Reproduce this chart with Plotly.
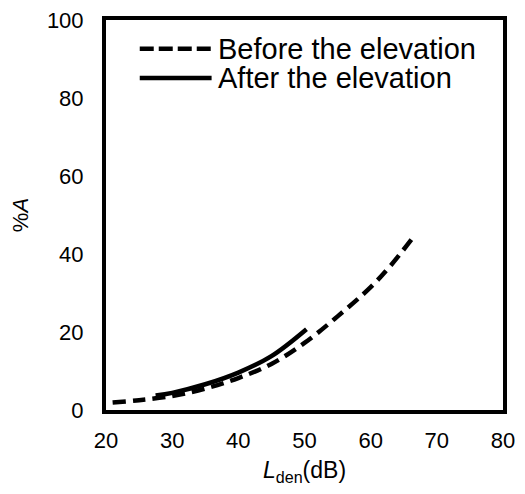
import plotly.graph_objects as go

# Data
before_x = [21, 25, 30, 35, 40, 45, 50, 55, 60, 63, 66.3]
before_y = [1.9, 2.5, 3.6, 5.5, 8.2, 11.8, 17.2, 24.0, 31.5, 37.0, 44.0]
after_x = [27.5, 30, 35, 40, 45, 50.3]
after_y = [3.7, 4.4, 6.6, 9.6, 13.8, 20.7]

x_ticks = [20, 30, 40, 50, 60, 70, 80]
y_ticks = [0, 20, 40, 60, 80, 100]
legend_labels = ["Before the elevation", "After the elevation"]

FONT = "Liberation Sans, Arial, sans-serif"

fig = go.Figure()
fig.add_trace(go.Scatter(x=before_x, y=before_y, mode="lines", name=legend_labels[0],
                         line=dict(color="black", width=4.5, dash="13px,7px", shape="spline"),
                         showlegend=False))
fig.add_trace(go.Scatter(x=after_x, y=after_y, mode="lines", name=legend_labels[1],
                         line=dict(color="black", width=4.5, shape="spline"),
                         showlegend=False))

# Custom legend (styling)
leg_rows = [(0.926, "14px,5px"), (0.851, "solid")]
for (yy, dash), lab in zip(leg_rows, legend_labels):
    fig.add_shape(type="line", xref="paper", yref="paper", x0=0.085, x1=0.266, y0=yy, y1=yy,
                  line=dict(color="black", width=4.5, dash=dash))
    fig.add_annotation(xref="paper", yref="paper", x=0.276, y=yy, text=lab, showarrow=False,
                       xanchor="left", yanchor="middle", font=dict(size=29, color="black", family=FONT))

fig.update_xaxes(range=[20, 80], tickvals=x_ticks, showline=True, mirror=True, linecolor="black",
                 linewidth=4, ticks="", showgrid=False, zeroline=False, ticklabelstandoff=8,
                 automargin=False, ticklabeloverflow="allow",
                 tickfont=dict(size=22, color="black", family=FONT),
                 title=dict(text="<i>L</i><sub>den</sub>(dB)", font=dict(size=23, color="black", family=FONT),
                            standoff=20))
fig.update_yaxes(range=[0, 100], tickvals=y_ticks, showline=True, mirror=True, linecolor="black",
                 linewidth=4, ticks="", showgrid=False, zeroline=False, ticklabelstandoff=14,
                 automargin=False, ticklabeloverflow="allow",
                 tickfont=dict(size=22, color="black", family=FONT),
                 title=dict(text="%<i>A</i>", font=dict(size=22, color="black", family=FONT), standoff=14))

# page body has an 8px margin: figure sized to fit the 525x494 window
fig.update_layout(width=509, height=478, margin=dict(l=98, r=14, t=12, b=76),
                  plot_bgcolor="white", paper_bgcolor="white", showlegend=False)

fig.write_html("out.html")
